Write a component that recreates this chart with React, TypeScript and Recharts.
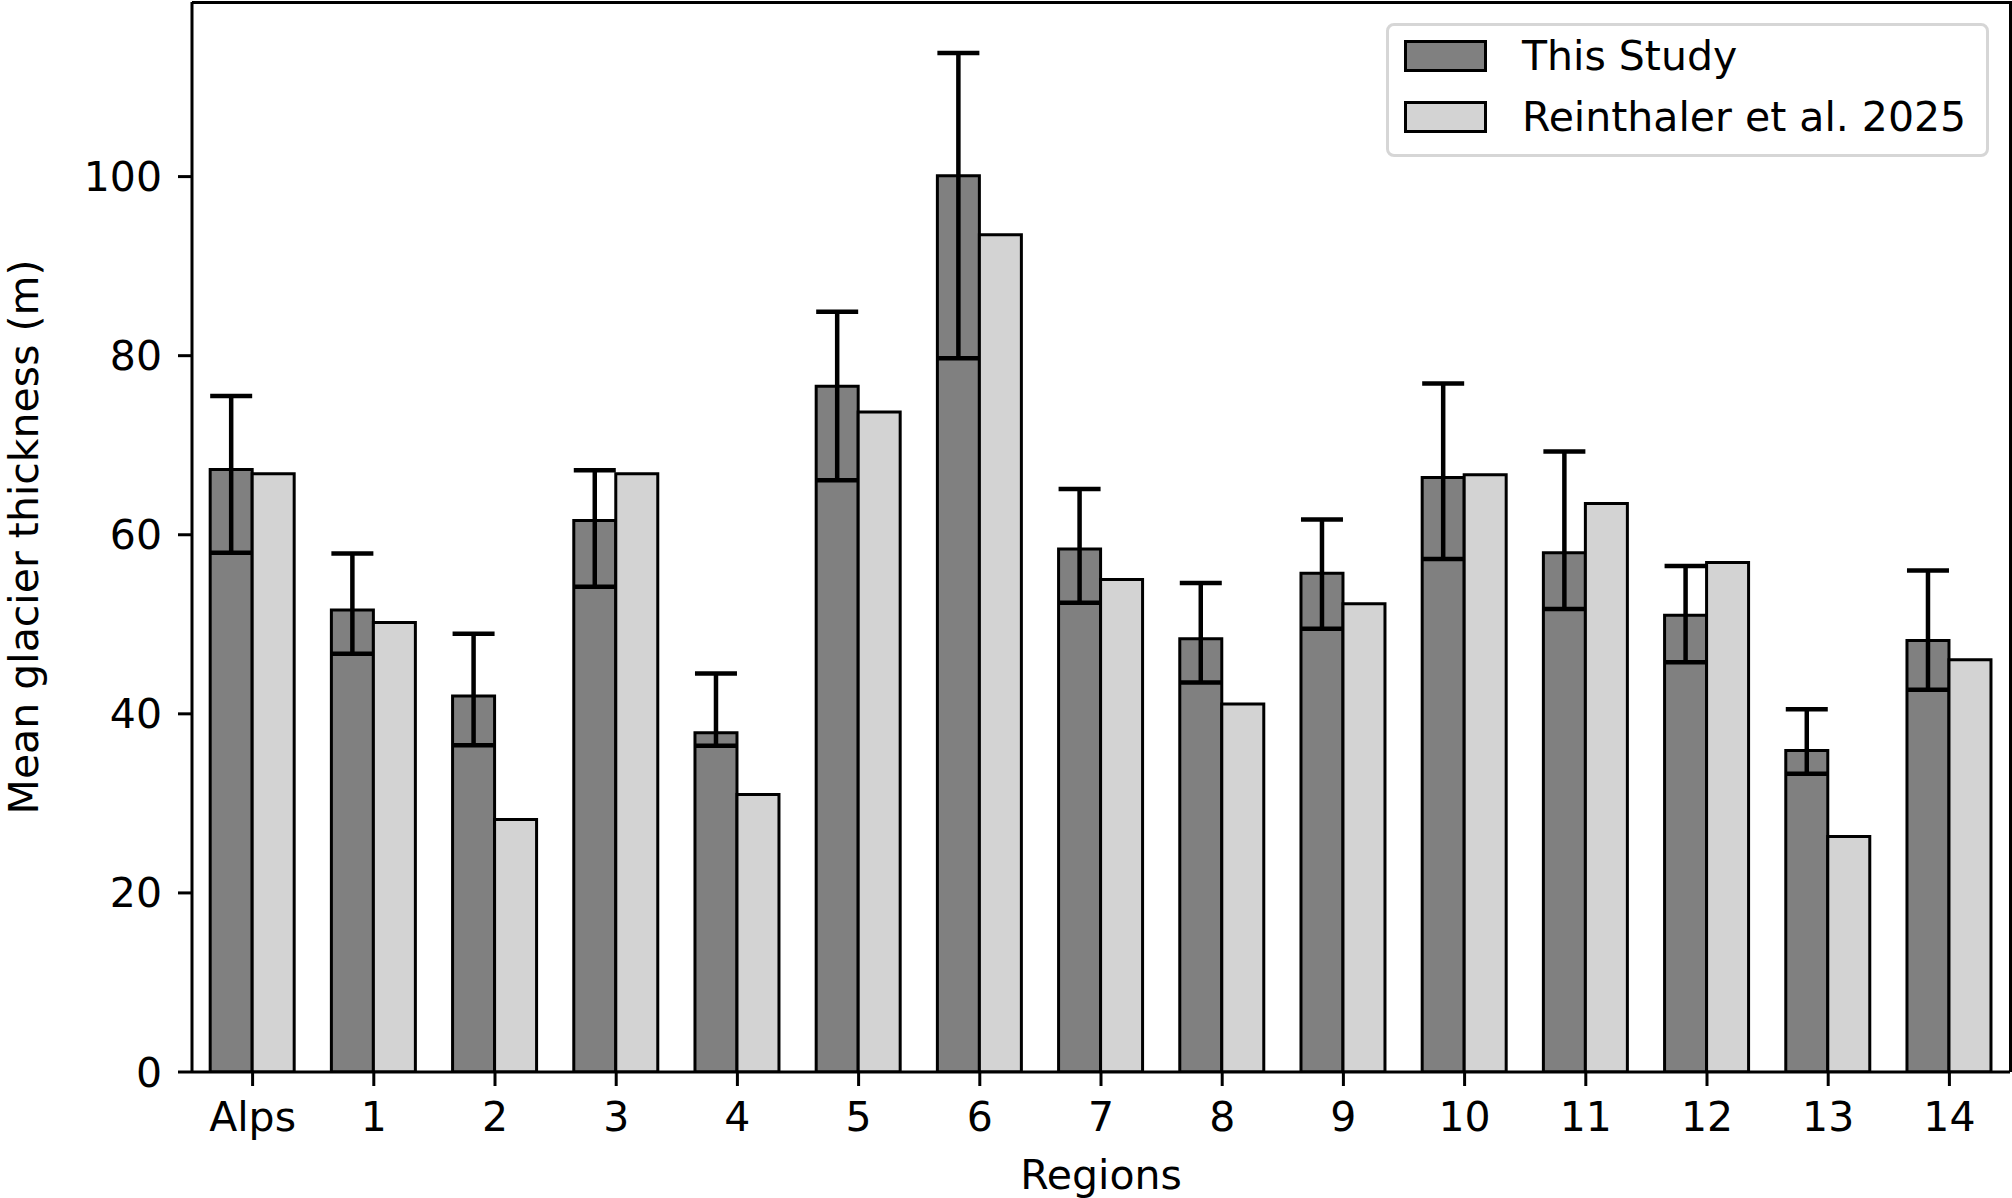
import React from 'react';
import { BarChart, Bar, XAxis, YAxis, ErrorBar, Legend } from 'recharts';

const regions = ['Alps', '1', '2', '3', '4', '5', '6', '7', '8', '9', '10', '11', '12', '13', '14'];
const thisStudy = [67.3, 51.6, 42.0, 61.6, 37.9, 76.6, 100.1, 58.4, 48.4, 55.7, 66.4, 58.0, 51.0, 35.9, 48.2];
const errLow = [9.3, 4.9, 5.5, 7.4, 1.45, 10.5, 20.4, 6.0, 4.9, 6.2, 9.1, 6.3, 5.25, 2.6, 5.5];
const errHigh = [8.2, 6.3, 6.95, 5.6, 6.6, 8.3, 13.7, 6.7, 6.2, 6.0, 10.5, 11.3, 5.5, 4.6, 7.8];
const reinthaler = [66.8, 50.2, 28.2, 66.8, 31.0, 73.7, 93.5, 55.0, 41.1, 52.3, 66.7, 63.5, 56.9, 26.3, 46.05];
const yTicks = [0, 20, 40, 60, 80, 100];

const data = regions.map((region, i) => ({
  region,
  study: thisStudy[i],
  studyErr: [errLow[i], errHigh[i]],
  reinthaler: reinthaler[i],
}));

const FONT = 'DejaVu Sans';
const FS = 41;
const DARK = '#808080';
const LIGHT = '#d3d3d3';

// plot box (matches chart margins and axis sizes below)
const PLOT_LEFT = 192;
const PLOT_TOP = 2;
const PLOT_RIGHT = 2010;
const PLOT_BOTTOM = 1072;

const legendItems = [
  { label: 'This Study', color: DARK },
  { label: 'Reinthaler et al. 2025', color: LIGHT },
];

const renderLegend = () => (
  <div
    style={{
      position: 'relative',
      width: 603,
      height: 134,
      boxSizing: 'border-box',
      border: '3px solid #d6d6d6',
      borderRadius: 8,
      background: '#fff',
      fontFamily: FONT,
      fontSize: FS,
    }}
  >
    {legendItems.map((item, i) => (
      <div key={item.label}>
        <div
          style={{
            position: 'absolute',
            left: 15,
            top: 14 + i * 61,
            width: 83,
            height: 32,
            boxSizing: 'border-box',
            background: item.color,
            border: '3px solid #000',
          }}
        />
        <div
          style={{
            position: 'absolute',
            left: 133,
            top: 6 + i * 61,
            lineHeight: '48px',
            whiteSpace: 'nowrap',
            color: '#000',
          }}
        >
          {item.label}
        </div>
      </div>
    ))}
  </div>
);

const renderYLabel = (props: any) => {
  const vb = props.viewBox || { y: PLOT_TOP, height: PLOT_BOTTOM - PLOT_TOP };
  const cy = vb.y + vb.height / 2;
  return (
    <text
      x={38}
      y={cy}
      transform={`rotate(-90, 38, ${cy})`}
      textAnchor="middle"
      fontFamily={FONT}
      fontSize={FS}
      fill="#000"
    >
      Mean glacier thickness (m)
    </text>
  );
};

const renderXLabel = (props: any) => {
  const vb = props.viewBox || { x: PLOT_LEFT, width: PLOT_RIGHT - PLOT_LEFT };
  return (
    <text x={vb.x + vb.width / 2} y={1189} textAnchor="middle" fontFamily={FONT} fontSize={FS} fill="#000">
      Regions
    </text>
  );
};

const App: React.FC = () => {
  return (
    <div style={{ position: 'absolute', left: 0, top: 0, width: 2012, height: 1198, background: '#fff', fontFamily: FONT }}>
      <BarChart
        width={2012}
        height={1198}
        data={data}
        margin={{ top: PLOT_TOP, right: 2012 - PLOT_RIGHT, bottom: 0, left: 0 }}
        barCategoryGap="15%"
        barGap={0}
      >
        <XAxis
          dataKey="region"
          type="category"
          interval={0}
          height={1198 - PLOT_BOTTOM}
          tickSize={14}
          tickMargin={16}
          axisLine={{ stroke: '#000', strokeWidth: 3 }}
          tickLine={{ stroke: '#000', strokeWidth: 3 }}
          tick={{ fill: '#000', fontSize: FS, fontFamily: FONT }}
          label={{ content: renderXLabel }}
        />
        <YAxis
          type="number"
          domain={[0, 119.5]}
          ticks={yTicks}
          allowDataOverflow
          width={PLOT_LEFT}
          tickSize={14}
          tickMargin={16}
          axisLine={{ stroke: '#000', strokeWidth: 3 }}
          tickLine={{ stroke: '#000', strokeWidth: 3 }}
          tick={{ fill: '#000', fontSize: FS, fontFamily: FONT }}
          label={{ content: renderYLabel }}
        />
        <Legend
          layout="horizontal"
          verticalAlign="middle"
          align="center"
          content={renderLegend}
          wrapperStyle={{ position: 'absolute', left: 1386, top: 23, width: 603, height: 134 }}
        />
        <Bar dataKey="study" name="This Study" fill={DARK} stroke="#000" strokeWidth={3} isAnimationActive={false}>
          <ErrorBar dataKey="studyErr" direction="y" width={21} stroke="#000" strokeWidth={4.5} />
        </Bar>
        <Bar dataKey="reinthaler" name="Reinthaler et al. 2025" fill={LIGHT} stroke="#000" strokeWidth={3} isAnimationActive={false} />
      </BarChart>
      {/* top and right spines */}
      <div
        style={{
          position: 'absolute',
          left: PLOT_LEFT,
          top: PLOT_TOP - 1.5,
          width: PLOT_RIGHT + 1.5 - PLOT_LEFT,
          height: PLOT_BOTTOM - PLOT_TOP + 1.5,
          boxSizing: 'border-box',
          borderTop: '3px solid #000',
          borderRight: '3px solid #000',
          pointerEvents: 'none',
        }}
      />
    </div>
  );
};

export default App;
